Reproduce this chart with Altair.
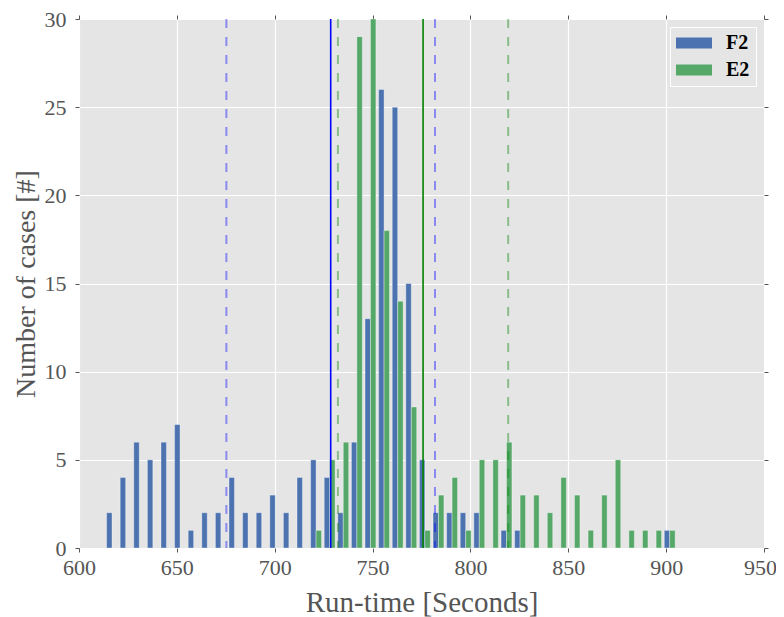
import altair as alt
import pandas as pd

# ---- data ----
bin_start = 613.4
bin_width = 6.95
f2_counts = [2, 4, 6, 5, 6, 7, 1, 2, 2, 4, 2, 2, 3, 2, 4, 5, 4, 2, 6, 13,
             26, 25, 15, 5, 2, 2, 2, 2, 0, 1, 1, 0, 0, 0, 0, 0, 0, 0, 0, 0,
             0, 1]
e2_counts = [0, 0, 0, 0, 0, 0, 0, 0, 0, 0, 0, 0, 0, 0, 0, 1, 5, 6, 29, 30,
             18, 14, 8, 1, 3, 4, 1, 5, 5, 6, 3, 3, 2, 4, 3, 1, 3, 5, 1, 1,
             1, 1]
series_names = ["F2", "E2"]
series_colors = ["#4C72B0", "#55A868"]
line_colors = ["#0000FF", "#008000"]
means = [728.6, 775.8]
stds = [53.3, 43.5]
x_ticks = [600, 650, 700, 750, 800, 850, 900, 950]
y_ticks = [0, 5, 10, 15, 20, 25, 30]

# ---- tables ----
rows = []
for i, (f, e) in enumerate(zip(f2_counts, e2_counts)):
    left = bin_start + i * bin_width
    if f > 0:
        rows.append(dict(series="F2", x0=left + 0.1 * bin_width,
                         x1=left + 0.5 * bin_width, count=f))
    if e > 0:
        rows.append(dict(series="E2", x0=left + 0.5 * bin_width,
                         x1=left + 0.9 * bin_width, count=e))
bars_df = pd.DataFrame(rows)

mean_df = pd.DataFrame({"series": series_names, "value": means})
std_rows = []
for s, m, sd in zip(series_names, means, stds):
    std_rows.append({"series": s, "value": m - sd})
    std_rows.append({"series": s, "value": m + sd})
std_df = pd.DataFrame(std_rows)

FONT = "Liberation Serif"
xscale = alt.Scale(domain=[600, 950], nice=False, zero=False)
yscale = alt.Scale(domain=[0, 30], nice=False)

bars = alt.Chart(bars_df).mark_rect(
    stroke="white", strokeOpacity=0.45, strokeWidth=0.8
).encode(
    x=alt.X("x0:Q", scale=xscale,
            axis=alt.Axis(values=x_ticks, title="Run-time [Seconds]",
                          labelPadding=5, labelFlush=False,
                          labelOffset={"expr": "datum.value == 950 ? -4 : 0"},
                          titleY=63, titleBaseline="alphabetic")),
    x2="x1:Q",
    y=alt.Y("count:Q", scale=yscale,
            axis=alt.Axis(values=y_ticks, title="Number of cases [#]",
                          labelPadding=9, labelFlush=False, titleX=-45,
                          titleY=264.5, titleAngle=270, titleAlign="center",
                          titleBaseline="alphabetic", titleFontSize=28)),
    y2=alt.datum(0),
    color=alt.Color("series:N",
                    scale=alt.Scale(domain=series_names, range=series_colors),
                    legend=alt.Legend(
                        orient="top-right", offset=8, title=None,
                        symbolType="M-1,-0.3H1V0.3H-1Z", symbolSize=1296,
                        symbolStrokeWidth=0, clipHeight=20, rowPadding=7,
                        padding=6, fillColor="#E5E5E5", strokeColor="white",
                        labelFont=FONT, labelFontSize=20,
                        labelFontWeight="bold", labelColor="black",
                        labelOffset=14)),
)

frame_axes = alt.Chart(bars_df).mark_point(opacity=0).encode(
    x=alt.X("x0:Q", scale=xscale,
            axis=alt.Axis(orient="top", values=x_ticks, labels=False,
                          title=None, grid=False)),
    y=alt.Y("count:Q", scale=yscale,
            axis=alt.Axis(orient="right", values=y_ticks, labels=False,
                          title=None, grid=False)),
)

mean_lines = alt.Chart(mean_df).mark_rule(strokeWidth=1.6).encode(
    x=alt.X("value:Q", scale=xscale, axis=None),
    color=alt.Color("series:N",
                    scale=alt.Scale(domain=series_names, range=line_colors),
                    legend=None),
)

std_lines = alt.Chart(std_df).mark_rule(
    strokeWidth=2, strokeDash=[9, 9], opacity=0.4
).encode(
    x=alt.X("value:Q", scale=xscale, axis=None),
    color=alt.Color("series:N",
                    scale=alt.Scale(domain=series_names, range=line_colors),
                    legend=None),
)

chart = alt.layer(bars, frame_axes, mean_lines, std_lines).resolve_axis(
    x="independent", y="independent"
).resolve_scale(color="independent").properties(
    width=685, height=529,
    autosize=alt.AutoSizeParams(type="none"),
    padding={"left": 71, "top": 11, "right": 12, "bottom": 70},
    background="white",
).configure_view(
    fill="#E5E5E5", stroke=None
).configure_axis(
    labelFont=FONT, labelFontSize=22, labelColor="#555555",
    titleFont=FONT, titleFontSize=29, titleFontWeight="normal",
    titleColor="#555555",
    gridColor="white", gridWidth=1.2, domain=False,
    tickColor="#555555", tickSize=4, tickWidth=1,
)

chart.save("out.html", embed_options={"renderer": "svg", "actions": False})
